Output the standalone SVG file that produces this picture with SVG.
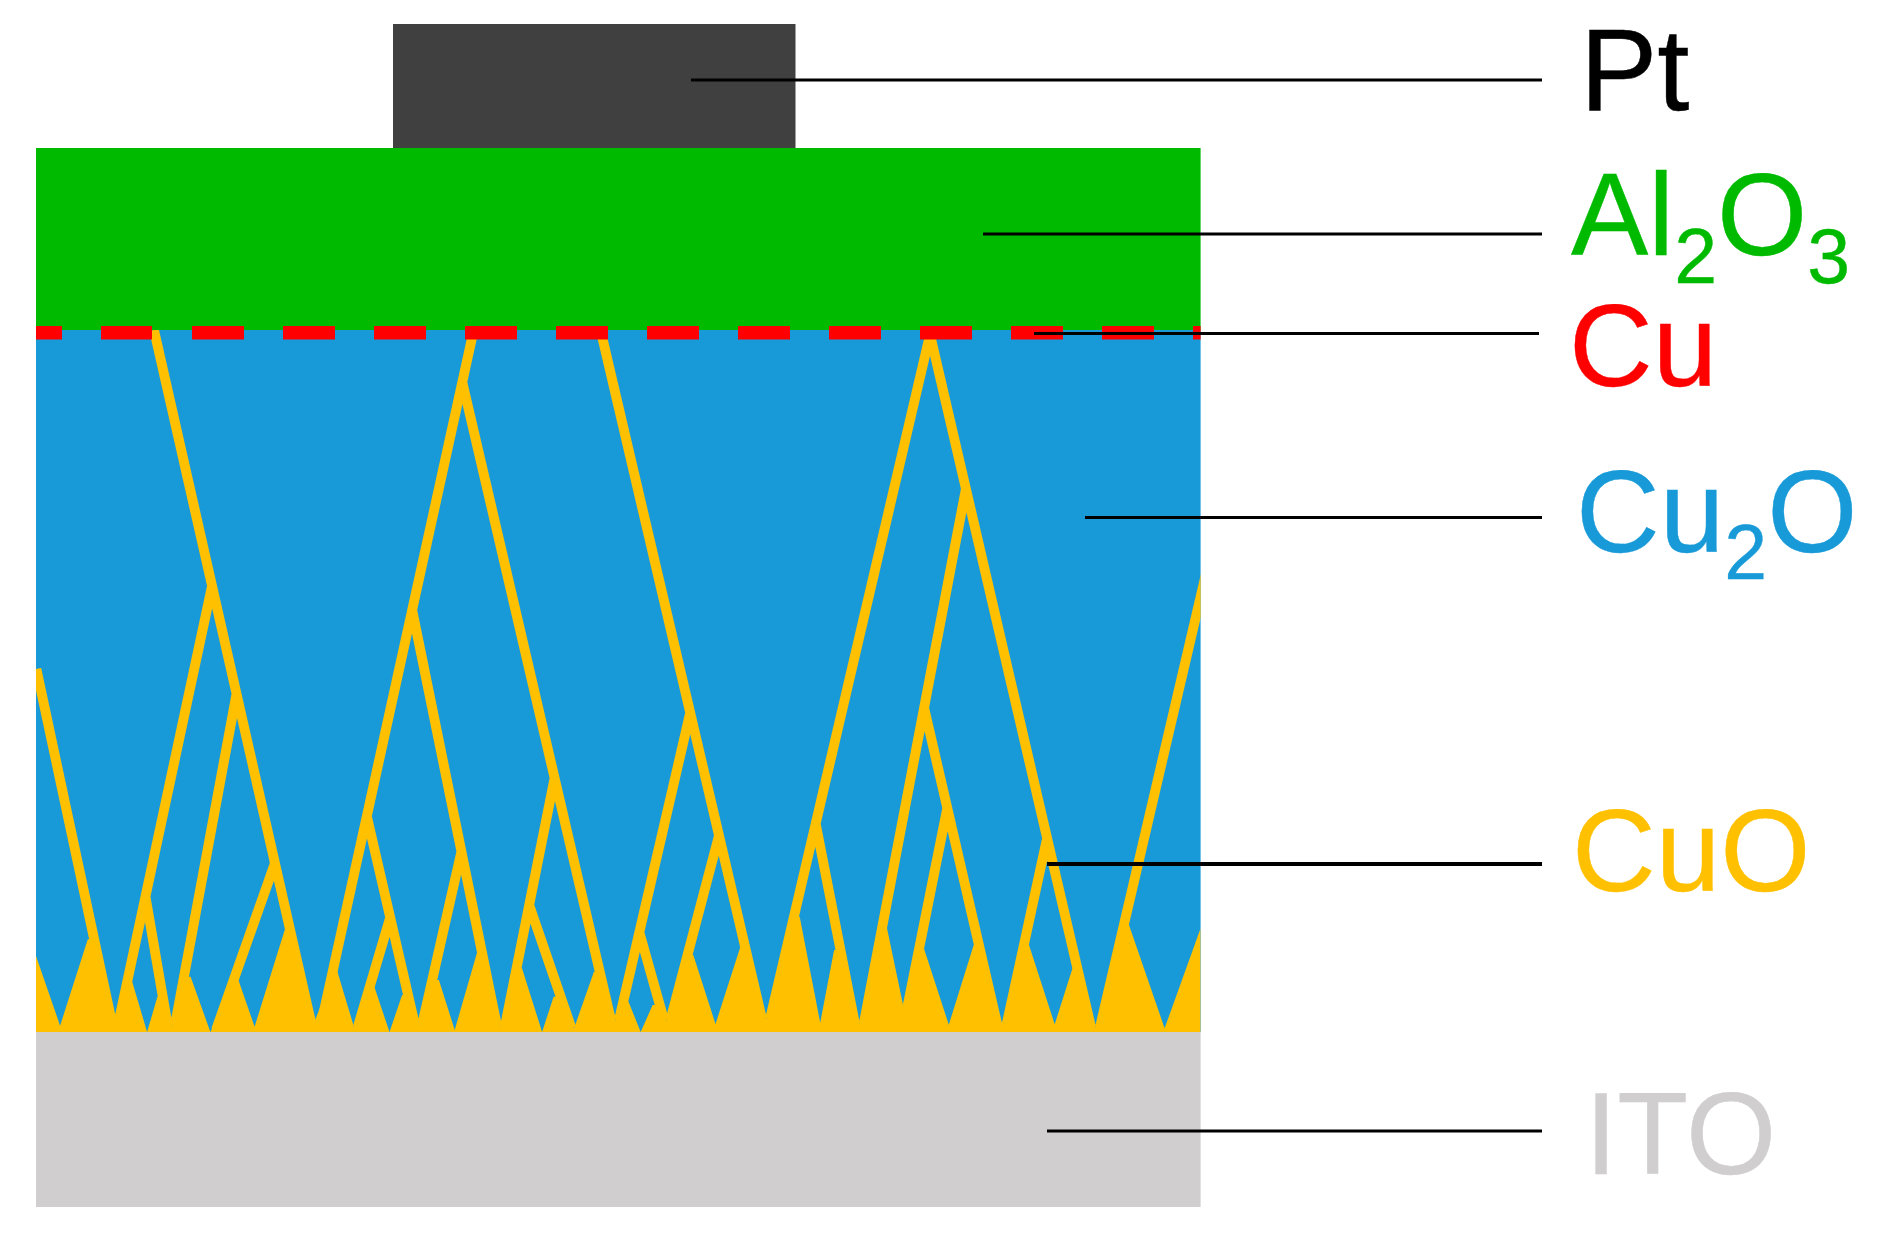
<svg xmlns="http://www.w3.org/2000/svg" width="1884" height="1240" viewBox="0 0 1884 1240">
<style>
.lbl{font-family:"Liberation Sans",Arial,sans-serif;font-size:116px;stroke-width:.4px}
.sub{font-size:77px}
.st{stroke:#FFC000;stroke-width:9.8;fill:none}
.lead{stroke:#000;stroke-width:3.2;fill:none}
.dash{fill:#FF0000}
</style>
<rect width="1884" height="1240" fill="#FFFFFF"/>
<g id="ito"><rect x="36" y="1032" width="1164.6" height="175" fill="#D0CECE"/></g>
<g id="cu2o"><rect x="36" y="330" width="1164.6" height="702" fill="#189AD8"/></g>
<g id="cuo">
<clipPath id="stack"><rect x="36" y="330" width="1164.6" height="702"/></clipPath>
<g clip-path="url(#stack)">
<path class="st" d="M154 330L311 1022M212 586L118.8 1021M236.5 694L175 1025M145.4 896L168 1027M275 863L216 1030M36.4 669L111 1018M473.3 332L322 1020M462.3 382L611 1020M412.2 610L497 1026M366.8 816L415 1025M461.4 851.5L422 1025M390.2 917.5L357.8 1027M554.6 778L505 1026M529.2 905L571.4 1028M601 332L762 1019M690.2 712.7L619 1020M639.3 932L664 1020M719 835.5L670.4 1020M930.6 332L770 1019M815.7 823.6L855 1024M929.5 332L1091 1027M966 488.3L863.7 1024M924.2 708L997.4 1025M947.3 808L907.6 1006M1047 838.5L1006.5 1025M1208 565L1100 1027"/>
<polygon fill="#FFC000" points="36,956 60.1,1025.7 87.8,939.3 94,939.3 114.7,1018.3 127,980 131.7,980 147.1,1032 157.4,996.7 163,996.7 172,1026.7 184,976.7 190.6,976.7 210.4,1032 233.7,980 238.4,980 254.6,1026.7 284.7,930 290.5,930 315.1,1020 336.1,967.3 353.9,1026.7 369,987.3 374.5,987.3 389.5,1032 402.1,995 408,995 419.1,1025 431.5,980 438.9,980 454.7,1030 477.3,951.7 481.9,951.7 501,1026 517,968.3 522,968.3 542.1,1032 553.6,996.7 560,996.7 574.1,1028.3 593.9,971.7 599.2,971.7 615.3,1020 623,1001.7 628.5,1001.7 640.7,1032 652.6,1005 659,1005 666.4,1020 687.5,955 693.3,955 715.5,1024 740.4,946.7 745,946.7 766.5,1019.3 793.9,916.7 799.7,916.7 820.2,1022.7 834.1,950 840.5,950 859,1024 882,926.7 886.7,926.7 903.3,1006 919,949.3 924.2,949.3 948.8,1024.7 973.7,945 978.8,945 1001.7,1024.7 1024,945 1029,945 1054.7,1024.3 1072.5,968.3 1077.3,968.3 1095.5,1027.3 1123.8,925 1129,925 1164.6,1028.3 1200.6,928.3 1200.6,1033 36,1033"/>
</g>
</g>
<g id="al2o3"><rect x="36" y="148" width="1164.6" height="182" fill="#00BA00"/></g>
<g id="pt"><rect x="393" y="24" width="402.5" height="124" fill="#404040"/></g>
<g id="cu">
<rect class="dash" x="36" y="326" width="26" height="13.5"/>
<rect class="dash" x="101" y="326" width="51" height="13.5"/>
<rect class="dash" x="192" y="326" width="52" height="13.5"/>
<rect class="dash" x="283" y="326" width="52" height="13.5"/>
<rect class="dash" x="374" y="326" width="52" height="13.5"/>
<rect class="dash" x="465" y="326" width="52" height="13.5"/>
<rect class="dash" x="556" y="326" width="52" height="13.5"/>
<rect class="dash" x="647" y="326" width="52" height="13.5"/>
<rect class="dash" x="738" y="326" width="52" height="13.5"/>
<rect class="dash" x="829" y="326" width="52" height="13.5"/>
<rect class="dash" x="920" y="326" width="52" height="13.5"/>
<rect class="dash" x="1011" y="326" width="52" height="13.5"/>
<rect class="dash" x="1102" y="326" width="52" height="13.5"/>
<rect class="dash" x="1193" y="326" width="7.6" height="13.5"/>
</g>
<g id="connectors">
<line class="lead" x1="691" y1="80" x2="1542" y2="80"/>
<line class="lead" x1="983" y1="234" x2="1542" y2="234"/>
<line class="lead" x1="1034" y1="333.5" x2="1539" y2="333.5"/>
<line class="lead" x1="1085" y1="517.5" x2="1542" y2="517.5"/>
<line class="lead" x1="1047" y1="864" x2="1542" y2="864" style="stroke-width:4"/>
<line class="lead" x1="1047" y1="1131" x2="1542" y2="1131"/>
</g>
<g id="label-pt"><text class="lbl" x="1580" y="109.5" fill="#000000" stroke="#000000">Pt</text></g>
<g id="label-al2o3"><text class="lbl" x="1571" y="255" fill="#00BA00" stroke="#00BA00">Al<tspan class="sub" dy="27.5">2</tspan><tspan dy="-27.5">O</tspan><tspan class="sub" dy="27.5">3</tspan></text></g>
<g id="label-cu"><text class="lbl" x="1569" y="385.5" fill="#FF0000" stroke="#FF0000">Cu</text></g>
<g id="label-cu2o"><text class="lbl" x="1576" y="551.5" fill="#189AD8" stroke="#189AD8">Cu<tspan class="sub" dy="27.5">2</tspan><tspan dy="-27.5">O</tspan></text></g>
<g id="label-cuo"><text class="lbl" x="1572" y="891" fill="#FFC000" stroke="#FFC000">CuO</text></g>
<g id="label-ito"><text class="lbl" x="1585" y="1174" fill="#D0CECE" stroke="#D0CECE">ITO</text></g>
</svg>
